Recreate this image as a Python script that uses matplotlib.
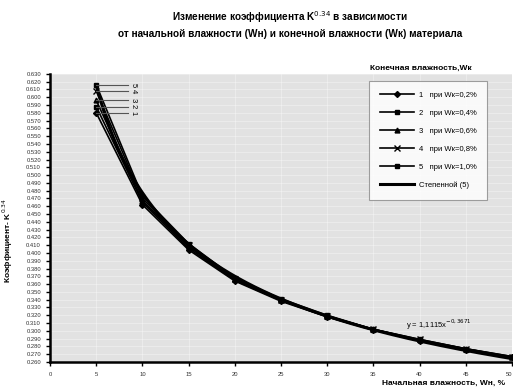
import matplotlib.pyplot as plt
import numpy as np

# initial moisture, %
wn = [5, 10, 15, 20, 25, 30, 35, 40, 45, 50]
# coefficient K^0.34 for each final moisture
s1 = [0.580, 0.462, 0.404, 0.364, 0.338, 0.318, 0.301, 0.287, 0.276, 0.266]
s2 = [0.588, 0.465, 0.406, 0.365, 0.339, 0.318, 0.301, 0.288, 0.276, 0.266]
s3 = [0.596, 0.467, 0.408, 0.366, 0.339, 0.319, 0.302, 0.288, 0.277, 0.266]
s4 = [0.608, 0.470, 0.410, 0.367, 0.340, 0.319, 0.302, 0.289, 0.277, 0.267]
s5 = [0.616, 0.473, 0.412, 0.368, 0.341, 0.320, 0.302, 0.289, 0.277, 0.267]
names = ['1', '2', '3', '4', '5']
wk_labels = ['при Wк=0,2%', 'при Wк=0,4%', 'при Wк=0,6%', 'при Wк=0,8%', 'при Wк=1,0%']
# power trendline for series 5
coef_a = 1.1115
coef_b = -0.3671

plt.rcParams['font.family'] = ['Liberation Sans', 'DejaVu Sans']

fig = plt.figure(figsize=(5.13, 3.87), dpi=100)
ax = fig.add_axes([0.0975, 0.0646, 0.9005, 0.7446])
ax.set_facecolor('#e2e2e2')

series = [s1, s2, s3, s4, s5]
markers = ['D', 's', '^', 'x', 's']
msizes = [3, 3.5, 3.5, 4, 2.5]
handles = []
for s, m, ms, n, lab in zip(series, markers, msizes, names, wk_labels):
    h, = ax.plot(wn, s, color='black', lw=1.2, marker=m, ms=ms, mew=1,
                 label=n + '   ' + lab)
    handles.append(h)

xt = np.linspace(wn[0], wn[-1], 200)
h, = ax.plot(xt, coef_a * xt ** coef_b, color='black', lw=2.2, label='Степенной (5)')
handles.append(h)

# leader lines with series numbers at the first point
for s, n in zip(series, names):
    ax.plot([wn[0], 8.4], [s[0], s[0]], color='#555555', lw=0.8)
    ax.text(8.6, s[0], n, rotation=-90, fontsize=5.5, va='center', ha='left')

ax.text(38.5, 0.3035, 'y = 1,1115x$^{-0,3671}$', fontsize=5.5)

ax.set_xlim(0, 50)
ax.set_ylim(0.26, 0.63)
ax.set_xticks(np.arange(0, 51, 5))
ax.set_yticks(np.arange(0.26, 0.6301, 0.01))
ax.set_yticklabels([f'{v:.3f}' for v in np.arange(0.26, 0.6301, 0.01)])
ax.tick_params(axis='both', labelsize=4.2, length=3, width=1, colors='black',
               labelcolor='#333333')
ax.tick_params(axis='x', pad=4)
ax.get_xticklabels()[-1].set_ha('right')
for side in ['top', 'right']:
    ax.spines[side].set_visible(False)
ax.spines['left'].set_linewidth(1.8)
ax.spines['bottom'].set_linewidth(1.8)

ax.grid(True, color='white', lw=0.4, alpha=0.6)

ax.set_ylabel('Коэффициент- K$^{0.34}$', fontsize=6, fontweight='bold', labelpad=4)
ax.yaxis.set_label_coords(-0.075, 0.42)
fig.text(0.985, 0.0, 'Начальная влажность, Wн, %', fontsize=6, fontweight='bold',
         ha='right', va='bottom')

fig.text(0.565, 0.945, 'Изменение коэффициента K$^{0.34}$ в зависимости',
         fontsize=7.2, fontweight='bold', ha='center')
fig.text(0.565, 0.905, 'от начальной влажности (Wн) и конечной влажности (Wк) материала',
         fontsize=7.2, fontweight='bold', ha='center')
fig.text(0.82, 0.82, 'Конечная влажность,Wк', fontsize=6, fontweight='bold', ha='center')

leg = ax.legend(handles=handles, loc='upper right', bbox_to_anchor=(0.955, 0.99),
                fontsize=5.5, frameon=True, fancybox=False, edgecolor='#888888',
                labelspacing=1.4, handlelength=4.5, borderpad=1.4, handletextpad=0.6)
leg.get_frame().set_linewidth(0.8)

plt.savefig('out.png')
